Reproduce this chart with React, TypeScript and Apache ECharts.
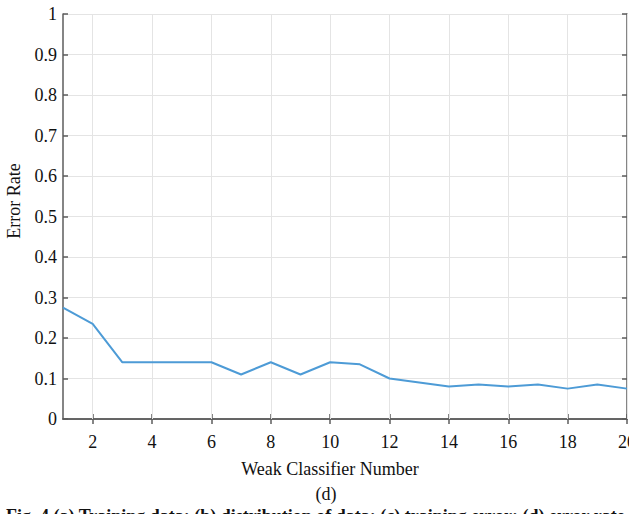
import React, { useEffect, useRef } from "react";
import * as echarts from "echarts";

// Weak classifier count (x) vs. error rate (y)
const classifierNumbers = [1, 2, 3, 4, 5, 6, 7, 8, 9, 10, 11, 12, 13, 14, 15, 16, 17, 18, 19, 20];
const errorRates = [0.275, 0.235, 0.14, 0.14, 0.14, 0.14, 0.11, 0.14, 0.11, 0.14, 0.135, 0.1, 0.09, 0.08, 0.085, 0.08, 0.085, 0.075, 0.085, 0.075];
const xTickValues = [2, 4, 6, 8, 10, 12, 14, 16, 18, 20];

const xTitle = "Weak Classifier Number";
const yTitle = "Error Rate";
const panelTag = "(d)";
const caption = "Fig. 4 (a) Training data; (b) distribution of data; (c) training error; (d) error rate";

const FONT = "'Liberation Serif', 'DejaVu Serif', serif";
const AXIS_COLOR = "#5c5c5c";
const GRID_COLOR = "#e4e4e4";
const TEXT_COLOR = "#111111";

export default function App() {
  const ref = useRef<HTMLDivElement>(null);

  useEffect(() => {
    if (!ref.current) return;
    const chart = echarts.init(ref.current, undefined, { renderer: "svg" });

    const yLabelMap = (v: number) => (v === 0 || v === 1 ? String(v) : v.toFixed(1));

    const xBase = {
      type: "value" as const,
      min: 1,
      max: 20,
      axisLine: { show: true, lineStyle: { color: AXIS_COLOR, width: 1.5 } },
      axisTick: {
        show: true,
        inside: true,
        length: 5,
        customValues: xTickValues,
        lineStyle: { color: AXIS_COLOR, width: 1.5 },
      },
      splitLine: { show: false },
    };
    const yBase = {
      type: "value" as const,
      min: 0,
      max: 1,
      interval: 0.1,
      axisLine: { show: true, lineStyle: { color: AXIS_COLOR, width: 1.5 } },
      axisTick: { show: true, inside: true, length: 5, lineStyle: { color: AXIS_COLOR, width: 1.5 } },
    };

    chart.setOption({
      animation: false,
      backgroundColor: "#ffffff",
      grid: {
        left: 63,
        top: 14,
        right: 2,
        bottom: 95,
        containLabel: false,
        outerBoundsMode: "none",
      },
      xAxis: [
        {
          ...xBase,
          position: "bottom",
          axisLabel: {
            show: true,
            customValues: xTickValues,
            margin: 14,
            fontFamily: FONT,
            fontSize: 18,
            color: TEXT_COLOR,
            hideOverlap: false,
          },
        },
        {
          ...xBase,
          position: "top",
          axisLabel: { show: false },
        },
      ],
      yAxis: [
        {
          ...yBase,
          position: "left",
          splitLine: { show: true, lineStyle: { color: GRID_COLOR, width: 1 } },
          axisLabel: {
            show: true,
            margin: 6,
            fontFamily: FONT,
            fontSize: 18,
            color: TEXT_COLOR,
            formatter: (v: number) => yLabelMap(Math.round(v * 10) / 10),
          },
        },
        {
          ...yBase,
          position: "right",
          splitLine: { show: false },
          axisLabel: { show: false },
        },
      ],
      series: [
        {
          type: "line",
          xAxisIndex: 0,
          yAxisIndex: 0,
          data: classifierNumbers.map((x, i) => [x, errorRates[i]]),
          showSymbol: false,
          symbol: "none",
          lineStyle: { color: "#4d9bd6", width: 2 },
          z: 5,
          markLine: {
            silent: true,
            symbol: "none",
            label: { show: false },
            lineStyle: { color: GRID_COLOR, width: 1, type: "solid" },
            data: xTickValues.map((v) => ({ xAxis: v })),
            z: 1,
          },
        },
      ],
      graphic: [
        {
          type: "text",
          x: 14,
          y: 201,
          rotation: Math.PI / 2,
          style: {
            text: yTitle,
            font: `18px ${FONT}`,
            fill: TEXT_COLOR,
            align: "center",
            verticalAlign: "middle",
          },
        },
        {
          type: "text",
          x: 330,
          y: 469,
          style: {
            text: xTitle,
            font: `18px ${FONT}`,
            fill: TEXT_COLOR,
            align: "center",
            verticalAlign: "middle",
          },
        },
        {
          type: "text",
          x: 326,
          y: 494,
          style: {
            text: panelTag,
            font: `18px ${FONT}`,
            fill: TEXT_COLOR,
            align: "center",
            verticalAlign: "middle",
          },
        },
        {
          type: "text",
          x: 6,
          y: 507,
          style: {
            text: caption,
            font: `bold 18px ${FONT}`,
            fill: TEXT_COLOR,
            align: "left",
            verticalAlign: "top",
          },
        },
      ],
    });

    return () => chart.dispose();
  }, []);

  return (
    <div
      ref={ref}
      style={{ position: "fixed", left: 0, top: 0, width: 629, height: 514, background: "#fff" }}
    />
  );
}
